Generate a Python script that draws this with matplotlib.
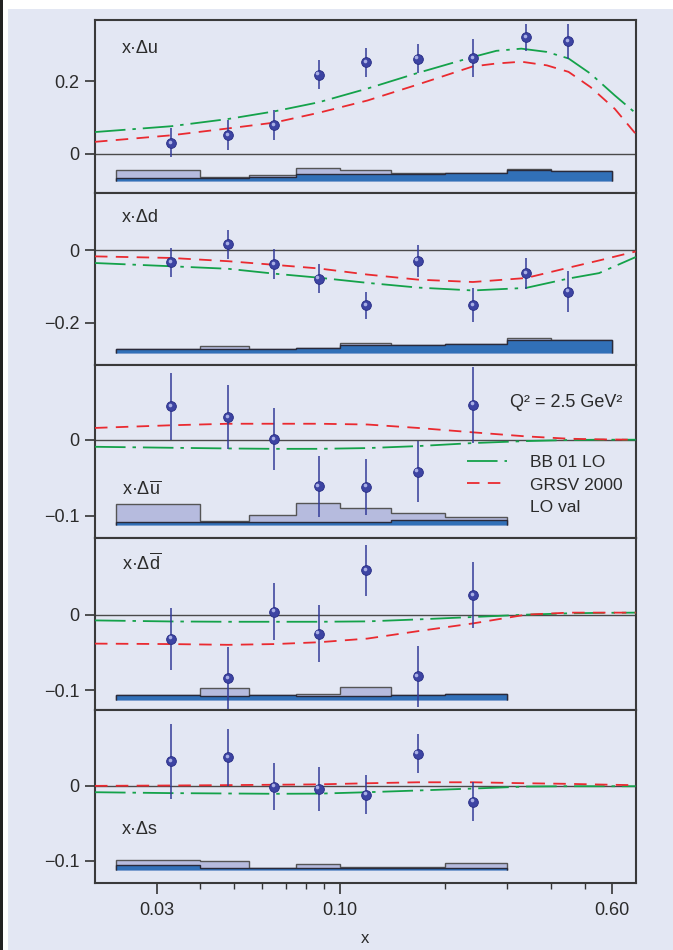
import numpy as np
import matplotlib
matplotlib.use("Agg")
import matplotlib.pyplot as plt
from matplotlib.lines import Line2D
from matplotlib.transforms import offset_copy

plt.rcParams['font.family'] = ['Liberation Sans', 'DejaVu Sans']
plt.rcParams['mathtext.fontset'] = 'custom'
plt.rcParams['mathtext.rm'] = 'Liberation Sans'
plt.rcParams['mathtext.it'] = 'Liberation Sans:italic'
plt.rcParams['mathtext.bf'] = 'Liberation Sans:bold'
plt.rcParams['lines.scale_dashes'] = False

# ---- data ----
x_pts = [0.033, 0.048, 0.065, 0.087, 0.119, 0.167, 0.240, 0.341, 0.449]
edges = [0.023, 0.04, 0.055, 0.075, 0.1, 0.14, 0.2, 0.3, 0.4, 0.6]

# x*Delta u
du_y = [0.030, 0.052, 0.079, 0.218, 0.253, 0.262, 0.264, 0.321, 0.310]
du_err = [0.040, 0.041, 0.041, 0.040, 0.040, 0.040, 0.052, 0.038, 0.048]
du_base = -0.075
du_sys_tot = [-0.046, -0.065, -0.058, -0.040, -0.046, -0.053, -0.054, -0.041, -0.048]
du_sys_in = [-0.067, -0.067, -0.063, -0.057, -0.055, -0.055, -0.054, -0.044, -0.048]

# x*Delta d
dd_y = [-0.033, 0.017, -0.038, -0.078, -0.152, -0.029, -0.152, -0.063, -0.114]
dd_err = [0.040, 0.040, 0.041, 0.041, 0.037, 0.045, 0.047, 0.043, 0.057]
dd_base = -0.283
dd_sys_tot = [-0.272, -0.266, -0.272, -0.269, -0.257, -0.261, -0.258, -0.244, -0.248]
dd_sys_in = [-0.274, -0.274, -0.272, -0.269, -0.262, -0.261, -0.258, -0.248, -0.248]

# x*Delta ubar
ub_y = [0.044, 0.030, 0.001, -0.061, -0.062, -0.042, 0.046]
ub_err = [0.044, 0.042, 0.041, 0.040, 0.037, 0.040, 0.050]
ub_base = -0.1125
ub_sys_tot = [-0.0843, -0.1067, -0.0996, -0.0827, -0.0894, -0.0960, -0.1014]
ub_sys_in = [-0.1076, -0.1076, -0.1080, -0.1080, -0.1076, -0.1060, -0.1053]

# x*Delta dbar
db_y = [-0.032, -0.084, 0.004, -0.025, 0.059, -0.082, 0.026]
db_err = [0.041, 0.041, 0.038, 0.038, 0.034, 0.040, 0.044]
db_base = -0.1129
db_sys_tot = [-0.1067, -0.0973, -0.1062, -0.1048, -0.0955, -0.1062, -0.1048]
db_sys_in = [-0.1067, -0.1075, -0.1062, -0.1075, -0.1075, -0.1062, -0.1048]

# x*Delta s
ds_y = [0.033, 0.038, -0.001, -0.004, -0.012, 0.043, -0.021]
ds_err = [0.050, 0.038, 0.031, 0.029, 0.026, 0.026, 0.026]
ds_base = -0.1121
ds_sys_tot = [-0.0988, -0.1005, -0.1094, -0.1049, -0.1080, -0.1090, -0.1036]
ds_sys_in = [-0.1054, -0.1094, -0.1094, -0.1100, -0.1100, -0.1100, -0.1100]

# parametrisation curves
xc_u = [0.02, 0.033, 0.048, 0.065, 0.087, 0.12, 0.167, 0.24, 0.28, 0.33, 0.39, 0.45, 0.52, 0.61, 0.70]
du_bb = [0.060, 0.076, 0.096, 0.117, 0.142, 0.180, 0.223, 0.267, 0.284, 0.290, 0.281, 0.263, 0.221, 0.161, 0.112]
du_grsv = [0.033, 0.051, 0.070, 0.086, 0.113, 0.147, 0.191, 0.241, 0.249, 0.254, 0.244, 0.226, 0.184, 0.124, 0.055]

xc = [0.02, 0.033, 0.048, 0.065, 0.087, 0.12, 0.167, 0.24, 0.34, 0.45, 0.55, 0.70]
dd_bb = [-0.035, -0.044, -0.051, -0.0645, -0.0756, -0.090, -0.103, -0.111, -0.104, -0.078, -0.063, -0.0185]
dd_grsv = [-0.0166, -0.021, -0.030, -0.040, -0.050, -0.067, -0.081, -0.0876, -0.0766, -0.048, -0.028, -0.003]
ub_bb = [-0.0093, -0.0106, -0.0115, -0.012, -0.012, -0.011, -0.0084, -0.0044, -0.0018, -0.0004, 0.0, 0.0]
ub_grsv = [0.0155, 0.019, 0.021, 0.021, 0.021, 0.020, 0.0155, 0.0097, 0.0044, 0.0013, 0.0005, 0.0]
db_bb = [-0.0076, -0.009, -0.0094, -0.0094, -0.0094, -0.0089, -0.0063, -0.0031, 0.0, 0.0018, 0.0024, 0.0027]
db_grsv = [-0.0384, -0.039, -0.040, -0.039, -0.0366, -0.0317, -0.0219, -0.0116, 0.0, 0.0027, 0.0027, 0.0027]
ds_bb = [-0.0085, -0.0097, -0.0102, -0.0106, -0.0104, -0.0085, -0.0062, -0.0036, -0.0009, -0.0005, -0.0005, -0.0005]
ds_grsv = [0.0, 0.0005, 0.001, 0.0015, 0.002, 0.0035, 0.0048, 0.0048, 0.0035, 0.0027, 0.0018, 0.0009]

panels = [
    dict(label="x\u00b7\u0394u", y=du_y, err=du_err, base=du_base, tot=du_sys_tot, inn=du_sys_in,
         xc=xc_u, bb=du_bb, grsv=du_grsv, ylim=(-0.107, 0.369), yt=[0, 0.2], ytl=["0", "0.2"], ly=0.810),
    dict(label="x\u00b7\u0394d", y=dd_y, err=dd_err, base=dd_base, tot=dd_sys_tot, inn=dd_sys_in,
         xc=xc, bb=dd_bb, grsv=dd_grsv, ylim=(-0.318, 0.160), yt=[-0.2, 0], ytl=["\u22120.2", "0"], ly=0.828),
    dict(label="x\u00b7\u0394$\\overline{\\mathrm{u}}$", y=ub_y, err=ub_err, base=ub_base, tot=ub_sys_tot,
         inn=ub_sys_in, xc=xc, bb=ub_bb, grsv=ub_grsv, ylim=(-0.129, 0.098), yt=[-0.1, 0],
         ytl=["\u22120.1", "0"], ly=0.246),
    dict(label="x\u00b7\u0394$\\overline{\\mathrm{d}}$", y=db_y, err=db_err, base=db_base, tot=db_sys_tot,
         inn=db_sys_in, xc=xc, bb=db_bb, grsv=db_grsv, ylim=(-0.127, 0.102), yt=[-0.1, 0],
         ytl=["\u22120.1", "0"], ly=0.811),
    dict(label="x\u00b7\u0394s", y=ds_y, err=ds_err, base=ds_base, tot=ds_sys_tot, inn=ds_sys_in,
         xc=xc, bb=ds_bb, grsv=ds_grsv, ylim=(-0.130, 0.101), yt=[-0.1, 0], ytl=["\u22120.1", "0"], ly=0.286),
]

bg = '#e3e7f3'
txt = '#2b2b2b'
green = '#14a24a'
red = '#ea2a30'
light = '#b6bbde'
dark = '#3170b8'

fig, axes = plt.subplots(5, 1, figsize=(6.73, 9.5), dpi=100, sharex=True)
fig.patch.set_facecolor('white')
fig.subplots_adjust(left=95 / 673, right=635.7 / 673, top=1 - 20 / 950, bottom=1 - 883 / 950, hspace=0)
fig.patches.append(plt.Rectangle((8 / 673, 0), 1, 1 - 9 / 950, transform=fig.transFigure,
                                 facecolor=bg, edgecolor='none', zorder=-2))
fig.patches.append(plt.Rectangle((0, 0), 2.5 / 673, 1, transform=fig.transFigure,
                                 facecolor='#222222', edgecolor='none', zorder=-1))

for ax, p in zip(axes, panels):
    n = len(p['y'])
    xs = x_pts[:n]
    ed = edges[:n + 1]
    ax.set_facecolor(bg)
    ax.set_xscale('log')
    ax.axhline(0, color='#4a4a4a', lw=1.0, zorder=1)

    # systematic bands
    ax.stairs(p['tot'], ed, baseline=p['base'], fill=True, facecolor=light,
              edgecolor='#555555', lw=1.0, zorder=2)
    ax.stairs(p['inn'], ed, baseline=p['base'], fill=True, facecolor=dark,
              edgecolor='#2a2a3a', lw=1.0, zorder=2.1)

    # curves
    ax.plot(p['xc'], p['bb'], color=green, lw=1.3, ls=(0, (22, 5, 2.5, 5)), zorder=3)
    ax.plot(p['xc'], p['grsv'], color=red, lw=1.3, ls=(0, (9, 6)), zorder=3)

    # data
    ax.errorbar(xs, p['y'], yerr=p['err'], fmt='none', ecolor='#333b98', elinewidth=1.1, zorder=4)
    ax.plot(xs, p['y'], 'o', ms=7.0, mfc='#3d44a3', mec='#262b84', mew=0.6, zorder=5)
    hl = offset_copy(ax.transData, fig=fig, x=-1.0, y=1.0, units='points')
    ax.plot(xs, p['y'], 'o', ms=2.6, mfc='#aab0e6', mec='none', transform=hl, zorder=6)

    ax.set_ylim(*p['ylim'])
    ax.set_yticks(p['yt'])
    ax.set_yticklabels(p['ytl'])
    ax.tick_params(axis='y', direction='out', length=7, width=1.2, color='#333333',
                   labelsize=13, labelcolor=txt, pad=4)
    ax.tick_params(axis='x', which='both', bottom=False, labelbottom=False)
    for s in ax.spines.values():
        s.set_linewidth(1.5)
        s.set_color('#3a3a3a')
    ax.text(0.05, p['ly'], p['label'], transform=ax.transAxes, fontsize=13, color=txt,
            ha='left', va='baseline')

ax = axes[-1]
ax.set_xlim(0.02, 0.70)
ax.set_xticks([0.03, 0.1, 0.6])
ax.set_xticklabels(["0.03", "0.10", "0.60"])
ax.set_xticks([0.04, 0.05, 0.06, 0.07, 0.08, 0.09, 0.2, 0.3, 0.4, 0.5], minor=True)
ax.xaxis.set_minor_formatter(matplotlib.ticker.NullFormatter())
ax.tick_params(axis='x', which='major', bottom=True, labelbottom=True, direction='out',
               length=8, width=1.2, color='#333333', labelsize=13, labelcolor=txt, pad=6)
ax.tick_params(axis='x', which='minor', bottom=True, direction='out', length=4.5,
               width=1.0, color='#333333')
ax.set_xlabel("x", fontsize=12, color=txt, labelpad=8)

# legend and Q2 in the ubar panel
ax3 = axes[2]
ax3.text(0.7675, 0.785, "Q\u00b2 = 2.5 GeV\u00b2", transform=ax3.transAxes, fontsize=13,
         color=txt, ha='left', va='center')
handles = [Line2D([], [], color=green, lw=1.3, ls=(0, (22, 5, 2.5, 5))),
           Line2D([], [], color=red, lw=1.3, ls=(0, (9, 6))),
           Line2D([], [], color='none')]
ax3.legend(handles, ["BB 01 LO", "GRSV 2000", "LO val"], loc='upper left',
           bbox_to_anchor=(0.688, 0.48), frameon=False, fontsize=12.5, borderpad=0,
           borderaxespad=0, handlelength=2.3, handletextpad=1.3, labelspacing=0.42,
           labelcolor=txt)

fig.savefig("out.png", dpi=100, facecolor=fig.get_facecolor())
